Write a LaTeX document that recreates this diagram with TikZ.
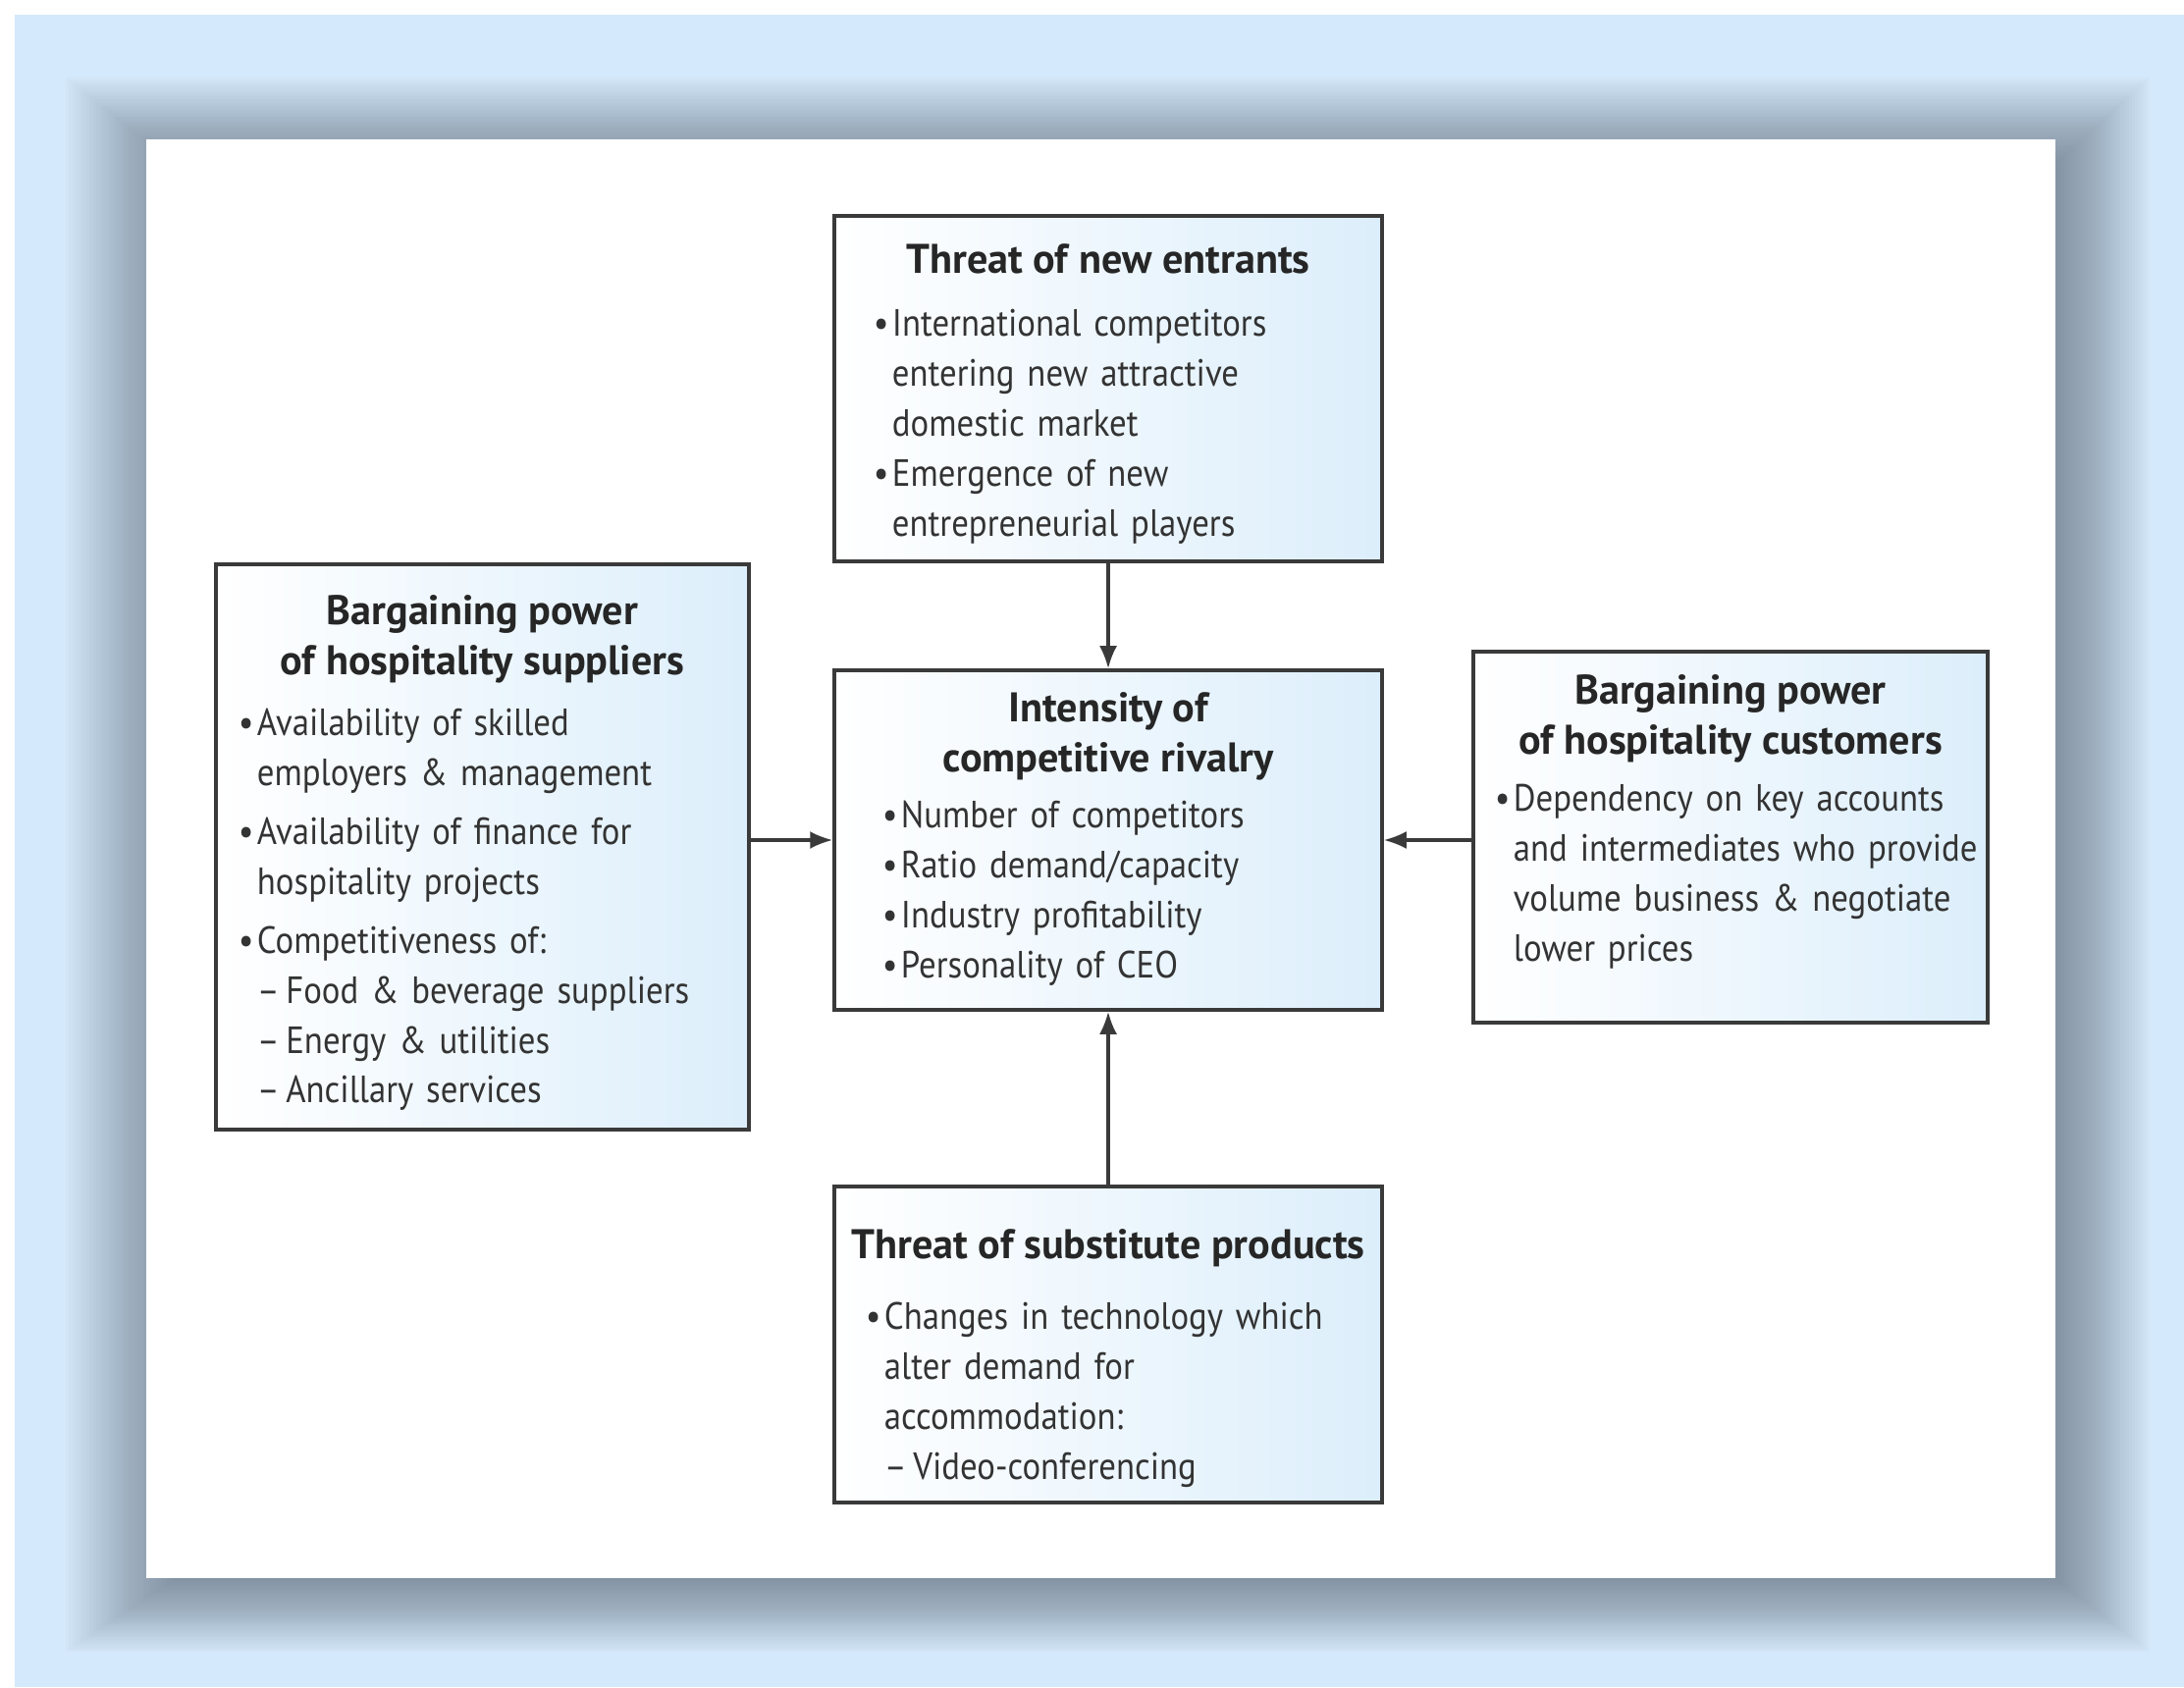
\documentclass[tikz,border=0pt]{standalone}
\usepackage{fontspec}
\setmainfont{PT Sans}[FakeStretch=0.9, BoldFeatures={FakeStretch=1.0}]
\usetikzlibrary{arrows.meta,calc}
\definecolor{bgblue}{HTML}{D4E9FB}
\definecolor{shadowgrey}{HTML}{3E4A58}
\definecolor{boxblue}{HTML}{DCEEFB}
\definecolor{boxline}{HTML}{3A3A3A}
\newcommand{\pitem}[1]{\hangindent=0.19cm\hangafter=1\noindent\makebox[0.19cm][l]{\textbullet}#1\par}
\newcommand{\pdash}{\kern-0.05cm--\,}

\begin{document}
\begin{tikzpicture}[
    forcebox/.style={draw=boxline, line width=1pt, left color=white, right color=boxblue, inner sep=0pt},
    boxtitle/.style={font=\fontsize{12}{14.5}\selectfont\bfseries, align=center, inner sep=0pt, text=black!85},
    boxbody/.style={font=\fontsize{11}{14.5}\selectfont, text width=6.5cm, align=left, inner sep=0pt, text=black!80},
    force/.style={draw=boxline, line width=0.9pt, -{Latex[length=0.23cm,width=0.18cm]}}]
    \useasboundingbox (0,0) rectangle (22.25,17.19);
    \fill[white] (0,0) rectangle (22.25,17.19);
    \fill[bgblue] (0.15,0) rectangle (22.25,17.04);

    % soft shadow round the panel
    \foreach \i in {1,...,32}
        \fill[shadowgrey, fill opacity=0.02] (1.49+0.3-0.035*\i,1.11-0.0235*\i) rectangle (20.94+0.03*\i,15.77-0.25+0.0275*\i);
    \fill[white] (1.49,1.11) rectangle (20.94,15.77);

    % the five forces
    \node[forcebox, minimum width=5.58cm, minimum height=3.52cm] (entrants) at (11.29,13.23) {};
    \node[forcebox, minimum width=5.58cm, minimum height=3.46cm] (rivalry) at (11.29,8.63) {};
    \node[forcebox, minimum width=5.43cm, minimum height=5.76cm] (suppliers) at (4.915,8.56) {};
    \node[forcebox, minimum width=5.24cm, minimum height=3.78cm] (customers) at (17.63,8.66) {};
    \node[forcebox, minimum width=5.58cm, minimum height=3.22cm] (substitutes) at (11.29,3.49) {};

    % titles
    \node[boxtitle, anchor=base] (entrants-title) at ([yshift=-0.60cm]entrants.north) {Threat of new entrants};
    \node[boxtitle, anchor=base] (rivalry-title) at ([yshift=-1.05cm]rivalry.north) {Intensity of\\competitive rivalry};
    \node[boxtitle, anchor=base] (suppliers-title) at ([yshift=-1.14cm]suppliers.north) {Bargaining power\\of hospitality suppliers};
    \node[boxtitle, anchor=base] (customers-title) at ([yshift=-1.06cm]customers.north) {Bargaining power\\of hospitality customers};
    \node[boxtitle, anchor=base] (substitutes-title) at ([yshift=-0.75cm]substitutes.north) {Threat of substitute products};

    % bullet lists
    \node[boxbody, anchor=base west] (entrants-body) at ([xshift=0.41cm, yshift=-1.24cm]entrants.north west) {%
        \pitem{International competitors\newline entering new attractive\newline domestic market}
        \pitem{Emergence of new\newline entrepreneurial players}};
    \node[boxbody, anchor=base west] (rivalry-body) at ([xshift=0.50cm, yshift=-1.62cm]rivalry.north west) {%
        \pitem{Number of competitors}
        \pitem{Ratio demand/capacity}
        \pitem{Industry profitability}
        \pitem{Personality of CEO}};
    \node[boxbody, anchor=base west] (suppliers-body) at ([xshift=0.24cm, yshift=-1.76cm]suppliers.north west) {%
        \setlength{\parskip}{0.09cm}%
        \pitem{Availability of skilled\newline employers \& management}
        \pitem{Availability of finance for\newline hospitality projects}
        \pitem{Competitiveness of:\newline \pdash Food \& beverage suppliers\newline \pdash Energy \& utilities\newline \pdash Ancillary services}};
    \node[boxbody, anchor=base west] (customers-body) at ([xshift=0.23cm, yshift=-1.64cm]customers.north west) {%
        \pitem{Dependency on key accounts\newline and intermediates who provide\newline volume business \& negotiate\newline lower prices}};
    \node[boxbody, anchor=base west] (substitutes-body) at ([xshift=0.33cm, yshift=-1.47cm]substitutes.north west) {%
        \pitem{Changes in technology which\newline alter demand for\newline accommodation:\newline \pdash Video-conferencing}};

    % connectors
    \draw[force] (entrants) -- (rivalry);
    \draw[force] (substitutes) -- (rivalry);
    \draw[force] (suppliers.east |- rivalry.west) -- (rivalry.west);
    \draw[force] (customers.west |- rivalry.east) -- (rivalry.east);
\end{tikzpicture}
\end{document}
